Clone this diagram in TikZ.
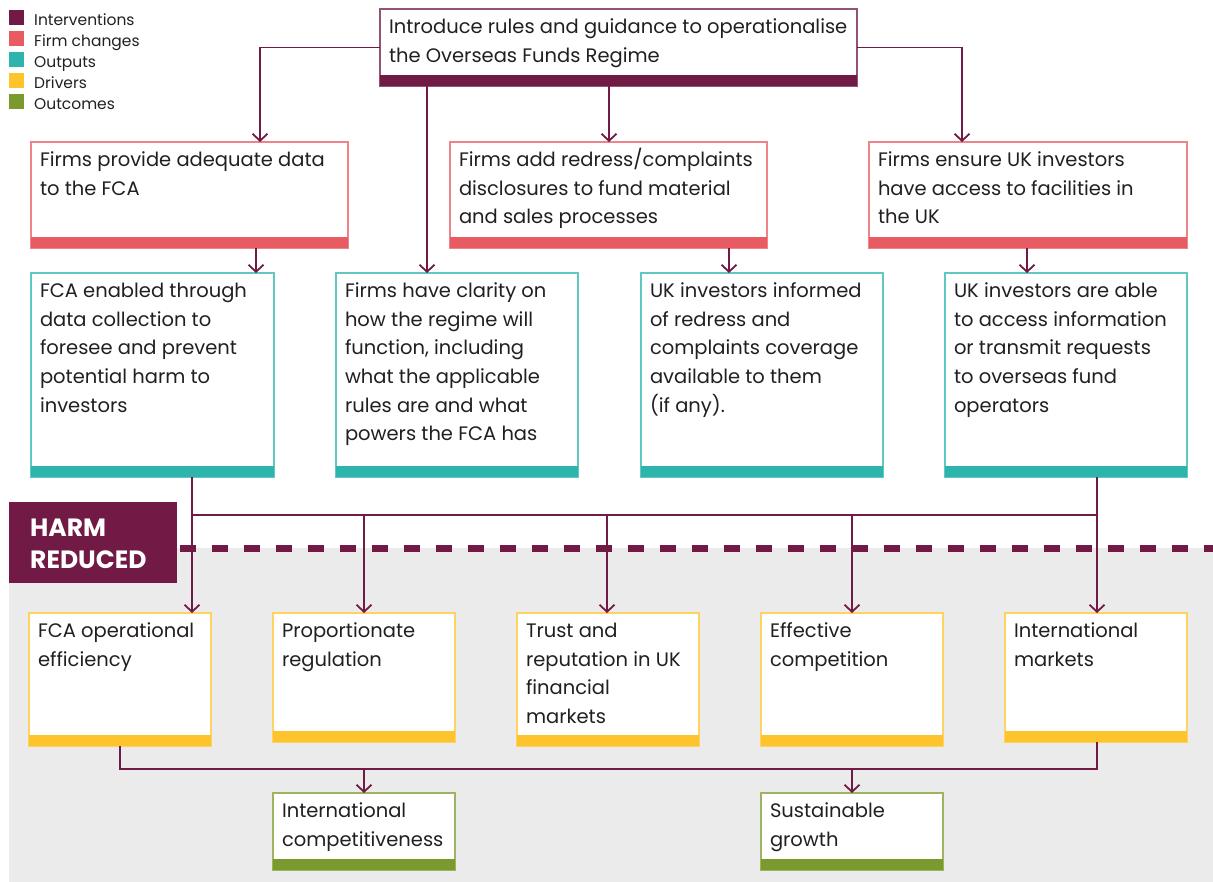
\documentclass[tikz,border=0pt]{standalone}
\usepackage{fontspec}
\setmainfont{Poppins}
\usetikzlibrary{arrows.meta}
\definecolor{maroon}{RGB}{112,26,69}
\definecolor{firmred}{RGB}{233,91,99}
\definecolor{teal}{RGB}{45,181,173}
\definecolor{amber}{RGB}{253,196,46}
\definecolor{olive}{RGB}{123,154,45}
\definecolor{bggray}{RGB}{235,235,235}
\definecolor{txtc}{RGB}{35,31,32}
\tikzset{
  boxframe/.style={rectangle, fill=white, line width=1.3, inner sep=0, outer sep=0, anchor=north west},
  boxtext/.style={font=\fontsize{19.5}{28.7}\selectfont, text=txtc, align=left, inner sep=0, outer sep=0, anchor=north west},
  legsq/.style={rectangle, minimum size=15, inner sep=0, anchor=north west},
  legtext/.style={font=\fontsize{15.5}{18}\selectfont, text=txtc, inner sep=0, anchor=base west},
  conn/.style={draw=maroon, line width=1.8, -{Straight Barb[length=7,width=15]}},
  plainconn/.style={draw=maroon, line width=1.8},
}
\newcommand\flowbox[7]{%
  \node[boxframe, draw=#6!75, minimum width=#4, minimum height=#5] (#1) at (#2,#3) {};
  \fill[#6] (#1.south west) rectangle ([yshift=11]#1.south east);
  \node[boxtext] (#1t) at ([xshift=9,yshift=-4.5]#1.north west) {\rule{0pt}{20pt}#7};
}
\begin{document}
\begin{tikzpicture}[x=1pt,y=-1pt]
\useasboundingbox (0,0) rectangle (1213,882);
% background
\fill[bggray] (9,548) rectangle (1213,882);
\draw[maroon, line width=7, dash pattern=on 16 off 16] (180,548.5) -- (1213,548.5);
% legend
\node[legsq, fill=maroon] (lg1) at (9,10) {};
\node[legtext] (lg1t) at (34,26) {Interventions};
\node[legsq, fill=firmred] (lg2) at (9,31) {};
\node[legtext] (lg2t) at (34,47) {Firm changes};
\node[legsq, fill=teal] (lg3) at (9,52) {};
\node[legtext] (lg3t) at (34,68) {Outputs};
\node[legsq, fill=amber] (lg4) at (9,73) {};
\node[legtext] (lg4t) at (34,89) {Drivers};
\node[legsq, fill=olive] (lg5) at (9,94) {};
\node[legtext] (lg5t) at (34,110) {Outcomes};
% top
\flowbox{top}{380}{9}{477}{77}{maroon}{Introduce rules and guidance to operationalise\\the Overseas Funds Regime}
% row 2
\flowbox{A}{31}{142}{317}{106}{firmred}{Firms provide adequate data\\to the FCA}
\flowbox{B}{450}{142}{317}{106}{firmred}{Firms add redress/complaints\\disclosures to fund material\\and sales processes}
\flowbox{C}{869}{142}{318}{106}{firmred}{Firms ensure UK investors\\have access to facilities in\\the UK}
% row 3
\flowbox{D}{31}{273}{243}{204}{teal}{FCA enabled through\\data collection to\\foresee and prevent\\potential harm to\\investors}
\flowbox{E}{336}{273}{242}{204}{teal}{Firms have clarity on\\how the regime will\\function, including\\what the applicable\\rules are and what\\powers the FCA has}
\flowbox{F}{641}{273}{242}{204}{teal}{UK investors informed\\of redress and\\complaints coverage\\available to them\\(if any).}
\flowbox{G}{945}{273}{242}{204}{teal}{UK investors are able\\to access information\\or transmit requests\\to overseas fund\\operators}
% harm reduced
\node[rectangle, fill=maroon, minimum width=168, minimum height=81, inner sep=0, anchor=north west] (harm) at (9,502) {};
\node[font=\fontsize{25}{32.5}\selectfont\bfseries, text=white, align=left, inner sep=0, anchor=north west] (harmt) at (30,511) {\rule{0pt}{25pt}HARM\\REDUCED};
% row 4
\flowbox{H}{29}{613}{182}{133}{amber}{FCA operational\\efficiency}
\flowbox{I}{273}{613}{182}{129}{amber}{Proportionate\\regulation}
\flowbox{J}{517}{613}{182}{133}{amber}{Trust and\\reputation in UK\\financial\\markets}
\flowbox{K}{761}{613}{182}{133}{amber}{Effective\\competition}
\flowbox{L}{1005}{613}{182}{129}{amber}{International\\markets}
% row 5
\flowbox{M}{273}{793}{182}{77}{olive}{International\\competitiveness}
\flowbox{N}{761}{793}{182}{77}{olive}{Sustainable\\growth}
% connectors from top
\draw[conn] (top.west) -| (260,0 |- A.north);
\draw[conn] (top.east) -| (962,0 |- C.north);
\draw[conn] (427,0 |- top.south) -- (427,0 |- E.north);
\draw[conn] (609,0 |- top.south) -- (609,0 |- B.north);
% row 2 to row 3
\draw[conn] (256,0 |- A.south) -- (256,0 |- D.north);
\draw[conn] (729,0 |- B.south) -- (729,0 |- F.north);
\draw[conn] (1027,0 |- C.south) -- (1027,0 |- G.north);
% bus to drivers
\coordinate (busL) at (192,515);
\coordinate (busR) at (1097,515);
\draw[plainconn] (busL) -- (busR);
\draw[conn] (192,0 |- D.south) -- (192,0 |- H.north);
\draw[conn] (1097,0 |- G.south) -- (1097,0 |- L.north);
\draw[conn] (busL -| I.north) -- (I.north);
\draw[conn] (busL -| 607,0) -- (607,0 |- J.north);
\draw[conn] (busL -| K.north) -- (K.north);
% bus to outcomes
\coordinate (bus2L) at (120,769);
\coordinate (bus2R) at (1097,769);
\draw[plainconn] (120,0 |- H.south) -- (bus2L) -- (bus2R) -- (1097,0 |- L.south);
\draw[conn] (bus2L -| M.north) -- (M.north);
\draw[conn] (bus2L -| N.north) -- (N.north);
\end{tikzpicture}
\end{document}
